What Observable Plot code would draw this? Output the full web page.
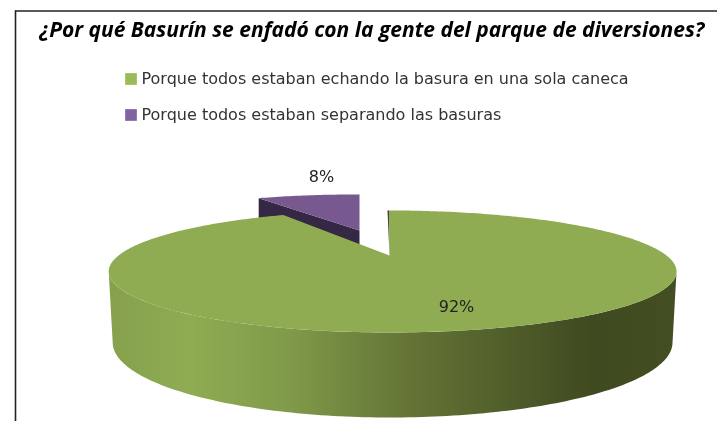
<!DOCTYPE html>
<html><head><meta charset="utf-8">
<style>html,body{margin:0;padding:0;background:#fff}svg{display:block;filter:blur(0.4px)}</style>
<script src="https://cdn.jsdelivr.net/npm/d3@7"></script>
<script src="https://cdn.jsdelivr.net/npm/@observablehq/plot@0.6"></script>
</head><body><script>
const title = "¿Por qué Basurín se enfadó con la gente del parque de diversiones?";
const categories = ["Porque todos estaban echando la basura en una sola caneca", "Porque todos estaban separando las basuras"];
const shares = [92, 8];
const shareLabels = ["92%", "8%"];
const topColors = ["#8fac53", "#77598f"];
const sideColors = ["#3f4a20", "#352845"];
const legendColors = ["#9bbb59", "#8064a2"];
const legendY = [79, 115];

// Perspective of the disc on the page
const P = {x0: 389, y0: 255, kL: 271, kR: 277, a: 10, c: 0.262};
const project = (u, v) => {
  const d = 1 + P.c * v;
  return {x: P.x0 + (u < 0 ? P.kL : P.kR) * u / d, y: (P.a * v + P.y0) / d};
};
// Each slice's angles come from the shares; clockwise from 12 o'clock
const total = d3.sum(shares);
const toAngle = s => s / total * 2 * Math.PI;
const greenStart = 0, greenEnd = toAngle(shares[0]);
const purpleStart = greenEnd, purpleEnd = greenEnd + toAngle(shares[1]);
const STEP = Math.PI / 180;
const arc = (a0, a1, cy = 0, shift = 0, scale = 1) => {
  const n = Math.ceil(Math.abs(a1 - a0) / STEP);
  return d3.range(n + 1).map(i => {
    const a = a0 + (a1 - a0) * i / n;
    const p = project(scale * Math.sin(a), cy + Math.cos(a));
    return {x: p.x + shift, y: p.y};
  });
};
// green top face
const greenFace = [project(0, 0), ...arc(greenStart, greenEnd)];
// purple slice, pulled out of the pie
const pullV = 0.497, pullX = -30, purpleScale = 1.05;
const apex = project(0, pullV);
const purpleApex = {x: apex.x + pullX, y: apex.y};
const purpleArc = arc(purpleStart, purpleEnd, pullV, pullX, purpleScale);
const purpleFace = [purpleApex, ...purpleArc];
// purple cut side, running down behind the green face
const drop = 30;
const down = p => ({x: p.x, y: p.y + drop});
const purpleSide = [purpleArc[0], purpleApex, down(purpleApex), down(purpleArc[0])];
// green rim: front half of the face, extruded to a larger lower ellipse
const lower = p => ({x: 392 + (p.x - 392) * 280 / 284, y: 342 + (p.y - 271) * 75 / 61});
const widest = Math.asin(0.262);
const rimTop = arc(Math.PI / 2 + widest, 3 * Math.PI / 2 - widest);
const greenRim = [...rimTop, ...rimTop.map(lower).reverse()];
// thin dark sliver of the cut at 12 o'clock
const cut = [project(0, 0), project(0, 1), {x: project(0, 1).x - 2, y: project(0, 1).y}];

const chart = Plot.plot({
  width: 717, height: 421, margin: 0,
  x: {domain: [0, 717], range: [0, 717], axis: null},
  y: {domain: [0, 421], range: [0, 421], axis: null},
  marks: [
    () => {
      const defs = d3.create("svg:defs");
      const g = defs.append("linearGradient").attr("id", "rimGrad").attr("gradientUnits", "userSpaceOnUse")
        .attr("x1", 108).attr("x2", 676).attr("y1", 0).attr("y2", 0);
      [[0, "#86a04c"], [0.144, "#8fac53"], [0.32, "#7f9a49"], [0.51, "#667737"], [0.85, "#3f4a20"], [1, "#434e22"]]
        .forEach(([o, c]) => g.append("stop").attr("offset", o).attr("stop-color", c));
      return defs.node();
    },
    Plot.ruleY([10.5], {stroke: "#222", strokeWidth: 1.6, x1: 15, x2: 717}),
    Plot.ruleX([15], {stroke: "#222", strokeWidth: 1.6, y1: 10.5, y2: 421}),
    Plot.line(purpleSide, {x: "x", y: "y", fill: sideColors[1], stroke: "none"}),
    Plot.line(purpleFace, {x: "x", y: "y", fill: topColors[1], stroke: "none"}),
    Plot.line(greenRim, {x: "x", y: "y", fill: "url(#rimGrad)", stroke: "none"}),
    Plot.line(cut, {x: "x", y: "y", fill: sideColors[0], stroke: "none"}),
    Plot.line(greenFace, {x: "x", y: "y", fill: topColors[0], stroke: "none"}),
    Plot.text([title], {x: 371.5, y: 30, text: d => d, fontSize: 21, fontWeight: "bold", fontStyle: "italic", fontFamily: "Open Sans", fill: "#000"}),
    Plot.dot(categories, {x: 130.5, y: (d, i) => legendY[i] - 0.5, symbol: "square", r: 6.6, fill: (d, i) => legendColors[i], stroke: "none"}),
    Plot.text(categories, {x: 141, y: (d, i) => legendY[i] - 0.5, text: d => d, textAnchor: "start", fontSize: 16, fontFamily: "DejaVu Sans", fill: "#333"}),
    Plot.text([shareLabels[1]], {x: 321, y: 176.5, text: d => d, fontSize: 16, fontFamily: "DejaVu Sans", fill: "#222"}),
    Plot.text([shareLabels[0]], {x: 456, y: 306.5, text: d => d, fontSize: 16, fontFamily: "DejaVu Sans", fill: "#222"})
  ]
});
document.body.append(chart);
</script></body></html>
